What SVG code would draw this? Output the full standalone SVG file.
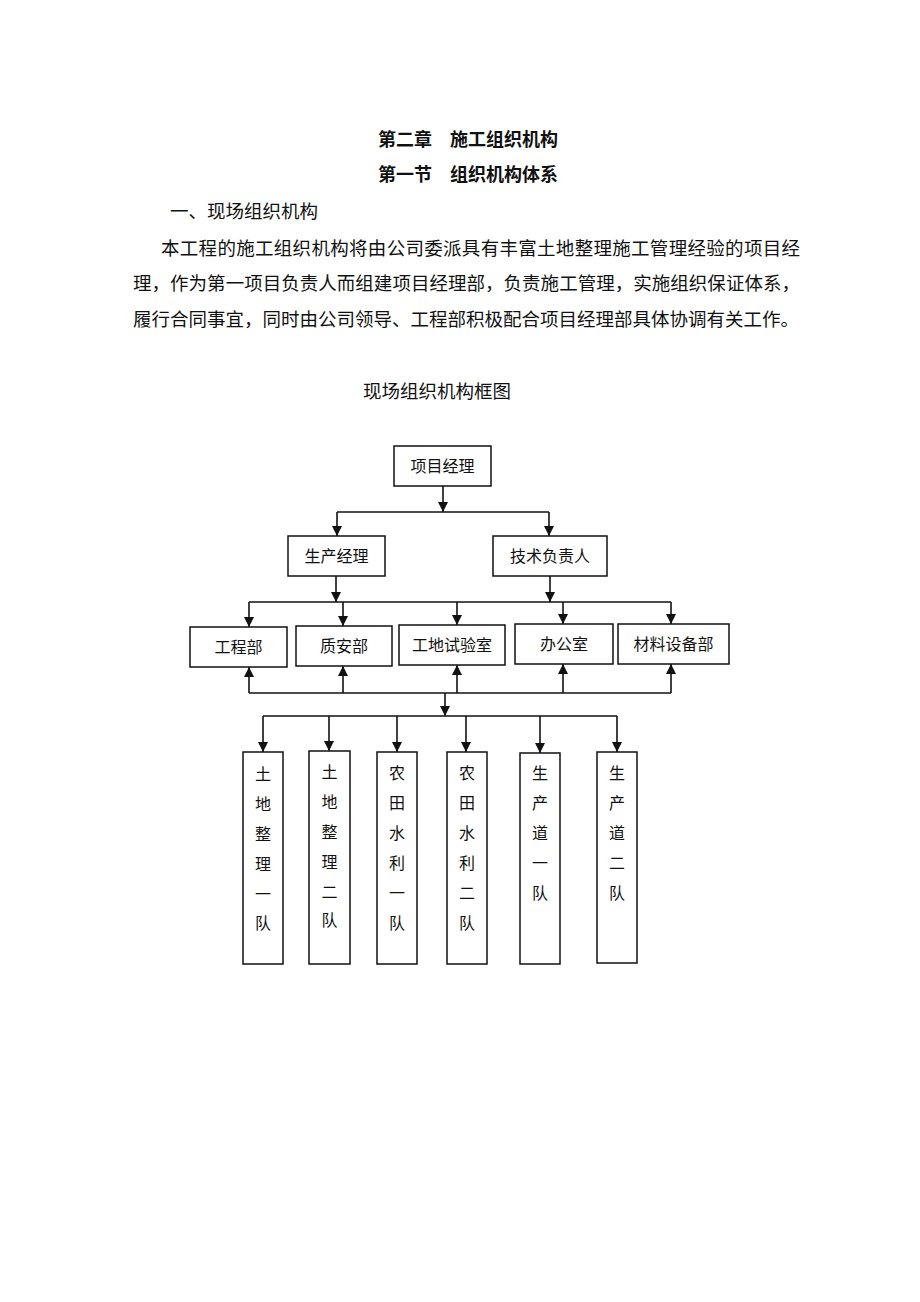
<svg xmlns="http://www.w3.org/2000/svg" width="920" height="1302" viewBox="0 0 920 1302">
<style>
.t{font-family:"Liberation Serif","Noto Sans CJK SC",serif;fill:#111;}
.h{font-size:18px;font-weight:bold;text-anchor:middle;}
.p{font-size:18.5px;}
.n{font-size:16px;text-anchor:middle;dominant-baseline:central;}
.box{fill:#fff;stroke:#111;stroke-width:1.5;}
.c{stroke:#111;stroke-width:1.6;fill:none;}
.a{marker-end:url(#arr);}
</style>
<defs>
<marker id="arr" viewBox="0 0 10 10" refX="10" refY="5" markerWidth="10" markerHeight="11" markerUnits="userSpaceOnUse" orient="auto">
<path d="M0,0 L10,5 L0,10 z" fill="#111"/>
</marker>
</defs>
<rect width="920" height="1302" fill="#fff"/>
<g id="header">
<text class="t h" x="468" y="146">第二章　施工组织机构</text>
<text class="t h" x="468" y="181">第一节　组织机构体系</text>
<text class="t p" x="170" y="218">一、现场组织机构</text>
<text class="t p" x="161" y="255" textLength="639" lengthAdjust="spacing">本工程的施工组织机构将由公司委派具有丰富土地整理施工管理经验的项目经</text>
<text class="t p" x="133" y="290" textLength="667" lengthAdjust="spacing">理，作为第一项目负责人而组建项目经理部，负责施工管理，实施组织保证体系，</text>
<text class="t p" x="133" y="326">履行合同事宜，同时由公司领导、工程部积极配合项目经理部具体协调有关工作。</text>
<text class="t p" x="437" y="398" text-anchor="middle">现场组织机构框图</text>
</g>
<g id="connectors">
<line class="c a" x1="443" y1="486" x2="443" y2="512"/>
<line class="c" x1="337" y1="512" x2="549" y2="512"/>
<line class="c a" x1="337" y1="512" x2="337" y2="536"/>
<line class="c a" x1="549" y1="512" x2="549" y2="536"/>
<line class="c a" x1="336" y1="576" x2="336" y2="602"/>
<line class="c a" x1="550" y1="576" x2="550" y2="602"/>
<line class="c" x1="249" y1="602" x2="671" y2="602"/>
<line class="c a" x1="249" y1="602" x2="249" y2="627"/>
<line class="c a" x1="343" y1="602" x2="343" y2="626"/>
<line class="c a" x1="457" y1="602" x2="457" y2="625"/>
<line class="c a" x1="563" y1="602" x2="563" y2="624"/>
<line class="c a" x1="671" y1="602" x2="671" y2="624"/>
<line class="c" x1="249" y1="693" x2="671" y2="693"/>
<line class="c a" x1="249" y1="693" x2="249" y2="667"/>
<line class="c a" x1="343" y1="693" x2="343" y2="666"/>
<line class="c a" x1="457" y1="693" x2="457" y2="665"/>
<line class="c a" x1="563" y1="693" x2="563" y2="664"/>
<line class="c a" x1="671" y1="693" x2="671" y2="664"/>
<line class="c a" x1="445" y1="693" x2="445" y2="716"/>
<line class="c" x1="263" y1="716" x2="617" y2="716"/>
<line class="c a" x1="263" y1="716" x2="263" y2="752"/>
<line class="c a" x1="329" y1="716" x2="329" y2="751"/>
<line class="c a" x1="397" y1="716" x2="397" y2="752"/>
<line class="c a" x1="466" y1="716" x2="466" y2="752"/>
<line class="c a" x1="540" y1="716" x2="540" y2="753"/>
<line class="c a" x1="617" y1="716" x2="617" y2="752"/>
</g>
<g id="n-pm"><rect class="box" x="394" y="446" width="97" height="40"/><text class="t n" x="442.5" y="466">项目经理</text></g>
<g id="n-prod"><rect class="box" x="288" y="536" width="97" height="40"/><text class="t n" x="336.5" y="556">生产经理</text></g>
<g id="n-tech"><rect class="box" x="493" y="536" width="114" height="40"/><text class="t n" x="550" y="556">技术负责人</text></g>
<g id="n-eng"><rect class="box" x="190" y="627" width="97" height="40"/><text class="t n" x="238.5" y="647">工程部</text></g>
<g id="n-qs"><rect class="box" x="296" y="626" width="96" height="40"/><text class="t n" x="344" y="646">质安部</text></g>
<g id="n-lab"><rect class="box" x="399" y="625" width="106" height="40"/><text class="t n" x="452" y="645">工地试验室</text></g>
<g id="n-office"><rect class="box" x="515" y="624" width="98" height="40"/><text class="t n" x="564" y="644">办公室</text></g>
<g id="n-mat"><rect class="box" x="618" y="624" width="111" height="40"/><text class="t n" x="673.5" y="644">材料设备部</text></g>
<g id="n-t1"><rect class="box" x="243" y="752" width="40" height="212"/>
<text class="t n" x="263" y="774">土</text><text class="t n" x="263" y="804">地</text><text class="t n" x="263" y="834">整</text><text class="t n" x="263" y="864">理</text><text class="t n" x="263" y="894">一</text><text class="t n" x="263" y="923">队</text></g>
<g id="n-t2"><rect class="box" x="309" y="751" width="41" height="213"/>
<text class="t n" x="329.5" y="772">土</text><text class="t n" x="329.5" y="802">地</text><text class="t n" x="329.5" y="832">整</text><text class="t n" x="329.5" y="862">理</text><text class="t n" x="329.5" y="892">二</text><text class="t n" x="329.5" y="920">队</text></g>
<g id="n-t3"><rect class="box" x="377" y="752" width="40" height="212"/>
<text class="t n" x="397" y="773">农</text><text class="t n" x="397" y="803">田</text><text class="t n" x="397" y="833">水</text><text class="t n" x="397" y="863">利</text><text class="t n" x="397" y="893">一</text><text class="t n" x="397" y="923">队</text></g>
<g id="n-t4"><rect class="box" x="447" y="752" width="40" height="212"/>
<text class="t n" x="467" y="773">农</text><text class="t n" x="467" y="803">田</text><text class="t n" x="467" y="833">水</text><text class="t n" x="467" y="863">利</text><text class="t n" x="467" y="893">二</text><text class="t n" x="467" y="923">队</text></g>
<g id="n-t5"><rect class="box" x="520" y="753" width="40" height="211"/>
<text class="t n" x="540" y="773">生</text><text class="t n" x="540" y="803">产</text><text class="t n" x="540" y="833">道</text><text class="t n" x="540" y="863">一</text><text class="t n" x="540" y="893">队</text></g>
<g id="n-t6"><rect class="box" x="597" y="752" width="40" height="211"/>
<text class="t n" x="617" y="773">生</text><text class="t n" x="617" y="803">产</text><text class="t n" x="617" y="833">道</text><text class="t n" x="617" y="863">二</text><text class="t n" x="617" y="893">队</text></g>
</svg>
